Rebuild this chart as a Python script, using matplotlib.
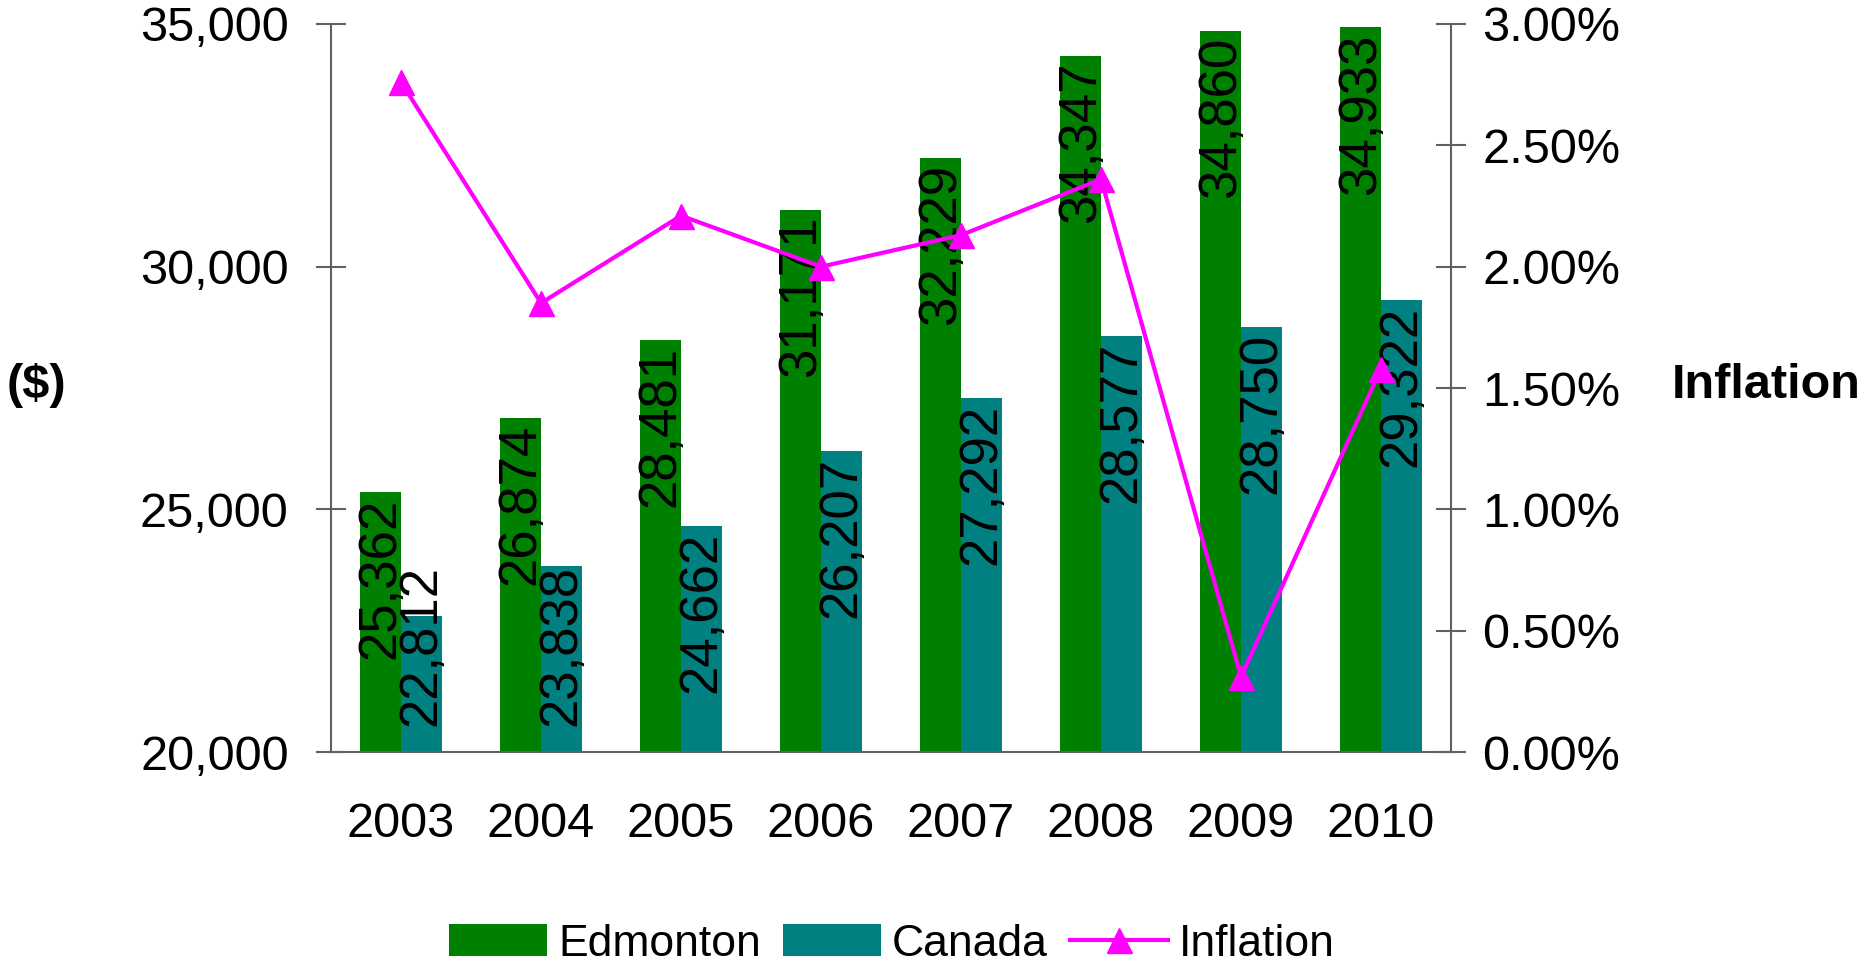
import matplotlib
matplotlib.use('Agg')
import matplotlib.pyplot as plt
from matplotlib.ticker import FuncFormatter, FixedLocator

plt.rcParams['font.family'] = ['Liberation Sans', 'DejaVu Sans']

# data
years = ['2003', '2004', '2005', '2006', '2007', '2008', '2009', '2010']
edmonton = [25362, 26874, 28481, 31171, 32229, 34347, 34860, 34933]
canada = [22812, 23838, 24662, 26207, 27292, 28577, 28750, 29322]
inflation = [2.76, 1.85, 2.21, 2.00, 2.13, 2.36, 0.31, 1.58]  # percent

GREEN = '#008000'
TEAL = '#008080'
MAGENTA = '#FF00FF'
AXC = '#606060'

fig = plt.figure(figsize=(18.62, 9.67), dpi=100)
ax = fig.add_axes([0.1778, 0.2223, 0.6015, 0.7529])
ax2 = ax.twinx()

x = list(range(len(years)))
w = 0.29
ax.bar([i - w / 2 for i in x], [v - 20000 for v in edmonton], w, bottom=20000,
       color=GREEN, label='Edmonton', zorder=2)
ax.bar([i + w / 2 for i in x], [v - 20000 for v in canada], w, bottom=20000,
       color=TEAL, label='Canada', zorder=2)

ax.set_xlim(-0.5, len(years) - 0.5)
ax.set_ylim(20000, 35000)
ax.yaxis.set_major_locator(FixedLocator([20000, 25000, 30000, 35000]))
ax.yaxis.set_major_formatter(FuncFormatter(lambda v, p: f'{int(v):,}'))
ax.set_xticks(x)
ax.set_xticklabels(years)

# value labels, rotated, inside the bar top
for xs, vals in (([i - w / 2 for i in x], edmonton), ([i + w / 2 for i in x], canada)):
    for xi, v in zip(xs, vals):
        top = max(v - 120, 23850)
        ax.text(xi, top, f'{v:,}', rotation=90, ha='center', va='top',
                fontsize=38, color='black', zorder=5)

ax2.plot(x, inflation, color=MAGENTA, lw=3, marker='^', markersize=18,
         label='Inflation', zorder=4)
ax2.set_ylim(0, 3.0)
ax2.yaxis.set_major_locator(FixedLocator([0, 0.5, 1.0, 1.5, 2.0, 2.5, 3.0]))
ax2.yaxis.set_major_formatter(FuncFormatter(lambda v, p: f'{v:.2f}%'))

for a in (ax, ax2):
    a.spines['top'].set_visible(False)
    for s in a.spines.values():
        s.set_color(AXC)
        s.set_linewidth(1.5)
ax.spines['right'].set_visible(False)
ax2.spines['left'].set_visible(False)
ax2.spines['bottom'].set_visible(False)

ax.tick_params(axis='y', direction='inout', length=21, width=1.5, color=AXC,
               labelsize=35, pad=20)
ax.tick_params(axis='x', length=0, labelsize=35, pad=36)
ax2.tick_params(axis='y', direction='inout', length=21, width=1.5, color=AXC,
                labelsize=35, pad=12)

fig.text(36 / 1862, 1 - 386 / 967, '($)', fontsize=35, fontweight='bold',
         ha='center', va='center')
fig.text(1766 / 1862, 1 - 386 / 967, 'Inflation', fontsize=35, fontweight='bold',
         ha='center', va='center')

h1, l1 = ax.get_legend_handles_labels()
h2, l2 = ax2.get_legend_handles_labels()
fig.legend(h1 + h2, l1 + l2, loc='center', bbox_to_anchor=(892 / 1862, 1 - 944 / 967),
           ncol=3, frameon=False, fontsize=32,
           handlelength=2.2, handleheight=0.7, handletextpad=0.25, columnspacing=0.5)

fig.savefig('out.png', dpi=100)
